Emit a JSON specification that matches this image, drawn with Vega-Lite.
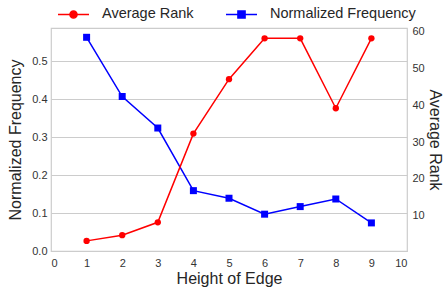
{
  "$schema": "https://vega.github.io/schema/vega-lite/v6.json",
  "width": 356,
  "height": 223,
  "autosize": "none",
  "padding": {"left": 51, "top": 28, "right": 39, "bottom": 39},
  "background": "white",
  "config": {
    "font": "Liberation Sans",
    "view": {"stroke": "#cccccc", "strokeWidth": 1.2},
    "axis": {"labelFont": "Liberation Sans", "titleFont": "Liberation Sans", "labelColor": "#333333", "titleColor": "#262626", "titleFontWeight": "normal", "labelFontSize": 11, "titleFontSize": 16, "domain": false, "ticks": false},
    "legend": {"labelFont": "Liberation Sans", "labelFontSize": 14.5, "labelColor": "#262626"}
  },
  "data": {
    "values": [
      {"height": 1, "series": "Normalized Frequency", "value": 0.563},
      {"height": 2, "series": "Normalized Frequency", "value": 0.407},
      {"height": 3, "series": "Normalized Frequency", "value": 0.324},
      {"height": 4, "series": "Normalized Frequency", "value": 0.159},
      {"height": 5, "series": "Normalized Frequency", "value": 0.139},
      {"height": 6, "series": "Normalized Frequency", "value": 0.097},
      {"height": 7, "series": "Normalized Frequency", "value": 0.117},
      {"height": 8, "series": "Normalized Frequency", "value": 0.137},
      {"height": 9, "series": "Normalized Frequency", "value": 0.074},
      {"height": 1, "series": "Average Rank", "value": 3.15},
      {"height": 2, "series": "Average Rank", "value": 4.7},
      {"height": 3, "series": "Average Rank", "value": 8.2},
      {"height": 4, "series": "Average Rank", "value": 32.3},
      {"height": 5, "series": "Average Rank", "value": 47.1},
      {"height": 6, "series": "Average Rank", "value": 58.2},
      {"height": 7, "series": "Average Rank", "value": 58.2},
      {"height": 8, "series": "Average Rank", "value": 39.2},
      {"height": 9, "series": "Average Rank", "value": 58.2}
    ]
  },
  "encoding": {
    "x": {
      "field": "height", "type": "quantitative",
      "scale": {"domain": [0, 10], "nice": false},
      "axis": {"title": "Height of Edge", "values": [0,1,2,3,4,5,6,7,8,9,10], "grid": false, "labelPadding": 6, "titlePadding": 2}
    },
    "color": {
      "field": "series", "type": "nominal",
      "scale": {"domain": ["Average Rank", "Normalized Frequency"], "range": ["#ff0000", "#0000ff"]},
      "legend": {
        "title": null,
        "orient": "none",
        "direction": "horizontal",
        "legendX": 6,
        "legendY": -30.5,
        "symbolSize": 961,
        "symbolStrokeWidth": 1.5,
        "labelOffset": 12,
        "columnPadding": 29,
        "encode": {
          "symbols": {
            "update": {
              "shape": {"signal": "datum.value === 'Average Rank' ? 'M-1,0L1,0M0.23,0A0.23,0.23,0,1,1,-0.23,0A0.23,0.23,0,1,1,0.23,0Z' : 'M-1,0L1,0M-0.23,-0.23L0.23,-0.23L0.23,0.23L-0.23,0.23Z'"},
              "fill": {"scale": "color", "field": "value"},
              "stroke": {"scale": "color", "field": "value"},
              "strokeWidth": {"value": 1.5},
              "opacity": {"value": 1}
            }
          }
        }
      }
    }
  },
  "layer": [
    {
      "transform": [{"filter": "datum.series === 'Normalized Frequency'"}],
      "mark": {"type": "line", "strokeWidth": 1.5, "point": {"shape": "square", "size": 49, "filled": true, "opacity": 1}},
      "encoding": {
        "y": {
          "field": "value", "type": "quantitative",
          "scale": {"domain": [0, 0.5875], "nice": false, "zero": false},
          "axis": {"orient": "left", "title": "Normalized Frequency", "values": [0, 0.1, 0.2, 0.3, 0.4, 0.5], "format": ".1f", "grid": true, "gridColor": "#cccccc", "gridWidth": 1, "labelPadding": 4, "titlePadding": 8}
        }
      }
    },
    {
      "transform": [{"filter": "datum.series === 'Average Rank'"}],
      "mark": {"type": "line", "strokeWidth": 1.5, "point": {"shape": "circle", "size": 40, "filled": true, "opacity": 1}},
      "encoding": {
        "y": {
          "field": "value", "type": "quantitative",
          "scale": {"domain": [0.4, 61.0], "nice": false, "zero": false},
          "axis": {"orient": "right", "title": "Average Rank", "values": [10, 20, 30, 40, 50, 60], "grid": false, "labelPadding": 5, "titlePadding": 2}
        }
      }
    }
  ],
  "resolve": {"scale": {"y": "independent"}}
}
